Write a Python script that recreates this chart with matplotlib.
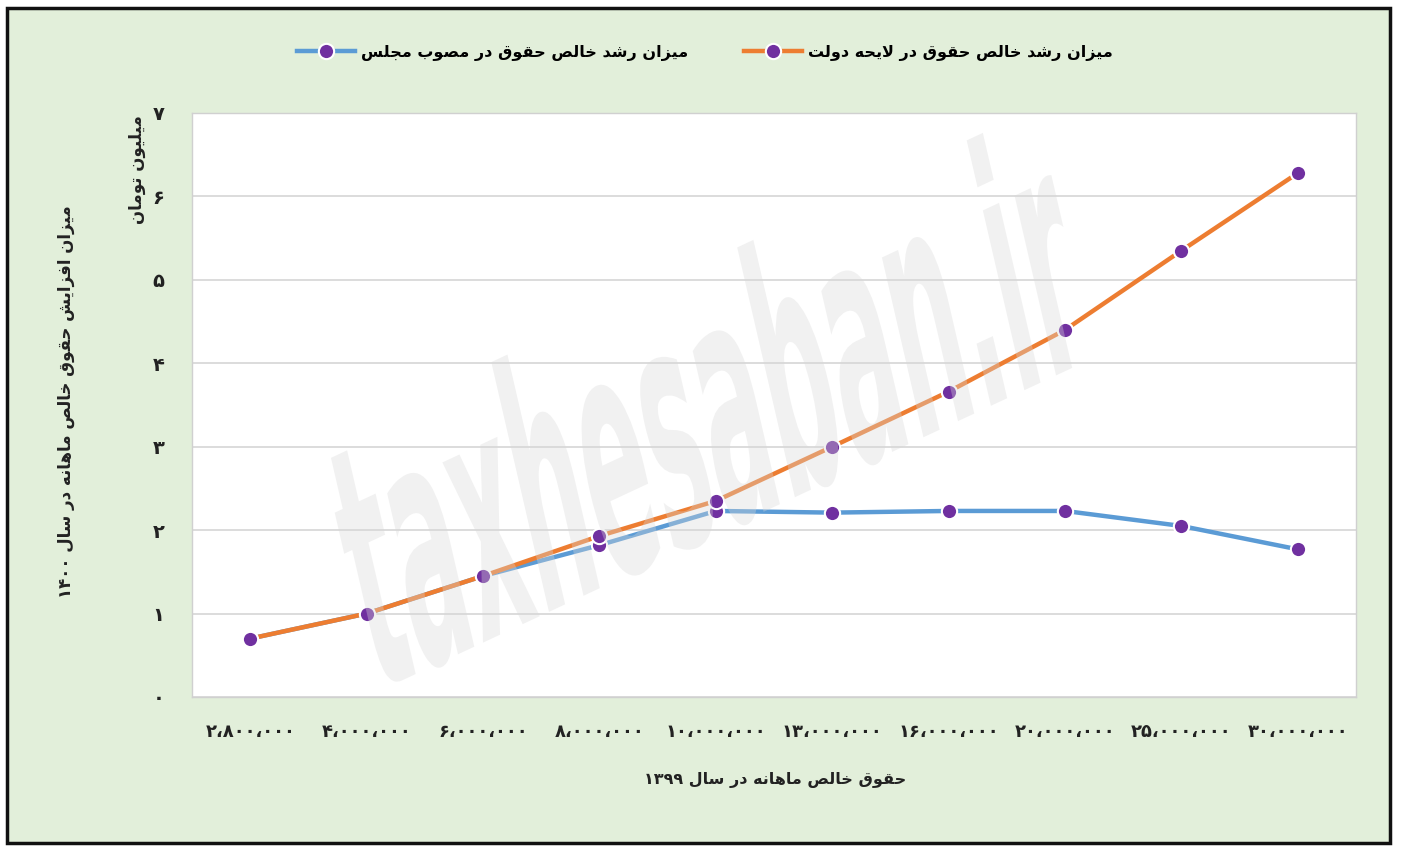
import matplotlib.pyplot as plt
from matplotlib.patches import Rectangle, PathPatch
from matplotlib.textpath import TextPath
from matplotlib.font_manager import FontProperties
from matplotlib.transforms import Affine2D

# monthly net salary in 1399 (rial) and the increase in 1400 (million toman)
salary = [2800000, 4000000, 6000000, 8000000, 10000000,
          13000000, 16000000, 20000000, 25000000, 30000000]
gov_bill = [0.70, 1.00, 1.45, 1.93, 2.35, 3.00, 3.66, 4.40, 5.35, 6.28]
majlis = [0.70, 1.00, 1.45, 1.82, 2.23, 2.21, 2.23, 2.23, 2.05, 1.77]

lbl_gov = 'میزان رشد خالص حقوق در لایحه دولت'
lbl_majlis = 'میزان رشد خالص حقوق در مصوب مجلس'
lbl_y = 'میزان افزایش حقوق خالص ماهانه در سال ۱۴۰۰'
lbl_unit = 'میلیون تومان'
lbl_x = 'حقوق خالص ماهانه در سال ۱۳۹۹'

# matplotlib has no arabic shaping / bidi, so do it by hand
FORMS = {
    'ا': (0xFE8D, 0xFE8E), 'د': (0xFEA9, 0xFEAA), 'ر': (0xFEAD, 0xFEAE),
    'ز': (0xFEAF, 0xFEB0), 'و': (0xFEED, 0xFEEE), 'لا': (0xFEFB, 0xFEFC),
    'ب': (0xFE8F, 0xFE90, 0xFE91, 0xFE92), 'ت': (0xFE95, 0xFE96, 0xFE97, 0xFE98),
    'ج': (0xFE9D, 0xFE9E, 0xFE9F, 0xFEA0), 'ح': (0xFEA1, 0xFEA2, 0xFEA3, 0xFEA4),
    'خ': (0xFEA5, 0xFEA6, 0xFEA7, 0xFEA8), 'س': (0xFEB1, 0xFEB2, 0xFEB3, 0xFEB4),
    'ش': (0xFEB5, 0xFEB6, 0xFEB7, 0xFEB8), 'ص': (0xFEB9, 0xFEBA, 0xFEBB, 0xFEBC),
    'ف': (0xFED1, 0xFED2, 0xFED3, 0xFED4), 'ق': (0xFED5, 0xFED6, 0xFED7, 0xFED8),
    'ل': (0xFEDD, 0xFEDE, 0xFEDF, 0xFEE0), 'م': (0xFEE1, 0xFEE2, 0xFEE3, 0xFEE4),
    'ن': (0xFEE5, 0xFEE6, 0xFEE7, 0xFEE8), 'ه': (0xFEE9, 0xFEEA, 0xFEEB, 0xFEEC),
    'ی': (0xFEEF, 0xFEF0, 0xFEF3, 0xFEF4),
}
FA_DIGITS = '۰۱۲۳۴۵۶۷۸۹'


def fa(s):
    toks = []
    i = 0
    while i < len(s):
        if s[i] == 'ل' and i + 1 < len(s) and s[i + 1] == 'ا':
            toks.append('لا')
            i += 2
        else:
            toks.append(s[i])
            i += 1
    out = []
    for k, t in enumerate(toks):
        f = FORMS.get(t)
        if f is None:
            out.append(t)
            continue
        prev = toks[k - 1] if k > 0 else None
        nxt = toks[k + 1] if k + 1 < len(toks) else None
        jp = prev in FORMS and len(FORMS[prev]) == 4
        jn = len(f) == 4 and nxt in FORMS
        if jp and jn:
            c = f[3]
        elif jp:
            c = f[1]
        elif jn:
            c = f[2]
        else:
            c = f[0]
        out.append(chr(c))
    vis = out[::-1]
    res, run = [], []
    for c in vis:
        if c in FA_DIGITS:
            run.append(c)
        else:
            res.extend(run[::-1])
            run = []
            res.append(c)
    res.extend(run[::-1])
    return ''.join(res)


def fa_num(v):
    s = f'{v:,}'
    return ''.join(FA_DIGITS[int(c)] if c.isdigit() else '،' for c in s)


plt.rcParams['font.family'] = ['DejaVu Sans']

fig = plt.figure(figsize=(14.03, 8.51), dpi=100)
fig.patch.set_facecolor('white')
fig.add_artist(Rectangle((7 / 1403, 8 / 851), 1383 / 1403, 835 / 851,
                         transform=fig.transFigure, facecolor='#e2efda',
                         edgecolor='#111111', linewidth=2.5, zorder=0))

ax = fig.add_axes([192 / 1403, 154 / 851, 1164 / 1403, 584 / 851])
ax.set_facecolor('white')
x = list(range(len(salary)))

ax.plot(x, majlis, color='#5b9bd5', lw=3.2, marker='o', ms=11,
        mfc='#7030a0', mec='white', mew=1.5, zorder=3, label=fa(lbl_majlis))
ax.plot(x, gov_bill, color='#ed7d31', lw=3.2, marker='o', ms=11,
        mfc='#7030a0', mec='white', mew=1.5, zorder=4, label=fa(lbl_gov))

ax.set_xlim(-0.5, len(salary) - 0.5)
ax.set_ylim(0, 7)
ax.set_yticks(range(8))
ax.set_yticklabels([FA_DIGITS[i] for i in range(8)], fontsize=14, fontweight='bold')
ax.set_xticks(x)
ax.set_xticklabels([fa_num(v) for v in salary], fontsize=13, fontweight='bold')
ax.tick_params(length=0, colors='#222222')
ax.tick_params(axis='x', pad=19)
ax.tick_params(axis='y', pad=20)
ax.grid(axis='y', color='#d9d9d9', lw=1.3)
ax.set_axisbelow(True)
for sp in ax.spines.values():
    sp.set_color('#d0d0d0')
    sp.set_linewidth(1)

fig.text(66 / 1403, 1 - 402 / 851, fa(lbl_y), rotation=90, ha='center',
         va='center', fontsize=12, fontweight='bold', color='#222222')
fig.text(137 / 1403, 1 - 170 / 851, fa(lbl_unit), rotation=90, ha='center',
         va='center', fontsize=12, fontweight='bold', color='#222222')
fig.text(775 / 1403, 1 - 780 / 851, fa(lbl_x), ha='center', va='center',
         fontsize=11.5, fontweight='bold', color='#222222')

fig.legend(loc='center', bbox_to_anchor=(705 / 1403, 1 - 53 / 851), ncol=2,
           frameon=False, handlelength=3.6, columnspacing=3.5, handletextpad=0.4,
           prop={'size': 11.5, 'weight': 'bold'})

# watermark
tp = TextPath((0, 0), 'taxhesaban.ir', size=100,
              prop=FontProperties(family='DejaVu Sans', weight='bold'))
tr = Affine2D().scale(1.02, 3.3).skew_deg(12, 0).rotate_deg(25).translate(375, 158)
fig.add_artist(PathPatch(tp, transform=tr, facecolor='#d8d8d8', edgecolor='none',
                         alpha=0.35, zorder=5))

fig.savefig('out.png', dpi=100, facecolor=fig.get_facecolor())
